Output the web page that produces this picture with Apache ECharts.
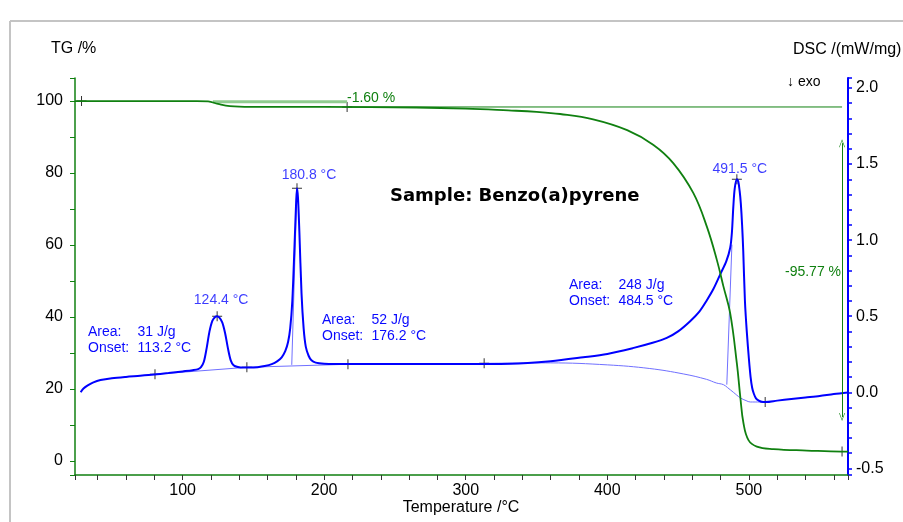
<!DOCTYPE html>
<html>
<head>
    <meta charset="utf-8">
    <title>TG / DSC</title>
    <script src="https://cdn.jsdelivr.net/npm/echarts@6/dist/echarts.min.js"></script>
</head>
<body style="margin:0;background:#fff">
    <div id="main" style="width:903px;height:522px;"></div>
    <script type="text/javascript">
// temperatures (°C) and curves
var tgT = [24, 60, 110, 118, 125, 133.4, 150, 200, 265, 300, 330, 350, 366.7, 390, 414, 432.6, 446.7, 460.8, 470.3, 477.4, 482, 486.8, 491.5, 493.9, 496.2, 499.7, 505.6, 517.4, 541, 565.7, 570];
var tgV = [100, 100, 100, 99.9, 99.2, 98.6, 98.4, 98.35, 98.2, 97.9, 97.4, 97.0, 96.4, 94.9, 91.9, 87.8, 82.7, 74.4, 65.1, 55.8, 48.5, 41, 27.1, 17.9, 10.4, 5.8, 4.0, 3.3, 2.9, 2.6, 2.6];

var dscT = [28, 30, 33, 37, 42, 50, 60, 70, 80, 90, 100, 107, 111, 113, 115, 117, 119, 121, 123, 124.4, 126, 128, 130, 132, 134, 136, 139, 143, 148, 153, 158, 163, 167, 170, 172.5, 174.5, 176, 177.5, 179, 180.2, 180.8, 181.5, 182.5, 184, 185.5, 187, 189, 191, 194, 200, 210, 230, 260, 290, 332, 360, 383, 400, 418, 432, 442, 450, 458.5, 465, 470, 475, 480, 484, 486.8, 488, 489, 490, 491.5, 492.5, 493.5, 494.3, 495.2, 496, 497.2, 498.5, 500, 501.2, 502.3, 503.5, 505, 507, 509, 511.5, 520, 530, 540, 550, 560, 570];
var dscV = [0.0, 0.025, 0.045, 0.065, 0.08, 0.092, 0.101, 0.108, 0.116, 0.126, 0.137, 0.145, 0.152, 0.165, 0.2, 0.29, 0.40, 0.47, 0.495, 0.50, 0.49, 0.46, 0.39, 0.29, 0.21, 0.178, 0.166, 0.162, 0.162, 0.165, 0.172, 0.185, 0.205, 0.23, 0.27, 0.33, 0.42, 0.6, 0.95, 1.25, 1.342, 1.28, 1.05, 0.65, 0.42, 0.3, 0.24, 0.21, 0.195, 0.188, 0.186, 0.185, 0.185, 0.185, 0.187, 0.204, 0.23, 0.252, 0.29, 0.325, 0.357, 0.40, 0.467, 0.53, 0.6, 0.68, 0.78, 0.86, 0.95, 1.05, 1.22, 1.34, 1.40, 1.385, 1.32, 1.24, 1.1, 0.93, 0.6, 0.4, 0.22, 0.1, 0.03, -0.01, -0.04, -0.055, -0.062, -0.064, -0.055, -0.045, -0.035, -0.025, -0.012, -0.002];

// integration baselines of the DSC peaks
var base1 = [[80.5, 0.118], [145.4, 0.164]];
var base2 = [[145.4, 0.164], [216.8, 0.184]];
var base3 = [[313, 0.19], [360, 0.193], [400, 0.18], [430, 0.156], [454, 0.12], [470, 0.085], [477, 0.061], [482, 0.05], [485, 0.03], [489, 0.0], [494, -0.037], [498, -0.055], [501, -0.064], [511.5, -0.064]];
var onsetLine2 = [[177.1, 0.18], [180.6, 1.28]];
var onsetLine3 = [[484.4, 0.05], [488, 0.97]];

// marked points
var peakT = [124.4, 180.8, 491.5];
var peakV = [0.50, 1.342, 1.40];
var dscMarks = [[80.5, 0.118], [145.4, 0.164], [216.8, 0.184], [313, 0.19], [511.5, -0.064]];
var tgMarks = [[28.6, 100], [216.2, 98.35], [565.8, 2.6]];

// TG step indicators
var stepLine = [[121.4, 99.8], [216.2, 99.8]];
var refLine = [[216.2, 98.35], [565.8, 98.35]];
var lossArrow = [[565.8, 88.3], [565.8, 12.2]];

var areaText = [
    {x: 88, y: 332, area: '31 J/g', onset: '113.2 °C'},
    {x: 322, y: 320, area: '52 J/g', onset: '176.2 °C'},
    {x: 569, y: 285, area: '248 J/g', onset: '484.5 °C'}
];

var FONT = '"Liberation Sans", Arial, sans-serif';
var BLUE = '#0a0aff';
var GREEN = '#108010';
var plus = 'path://M0,4.5H10V5.5H0Z M4.5,0H5.5V10H4.5Z';
var chevron = 'path://M5,0 L10,10 L9,10 L5,2 L1,10 L0,10 Z';

function zip(a, b) {
    return a.map(function (v, i) { return [v, b[i]]; });
}

var myChart = echarts.init(document.getElementById('main'));

var graphics = [
    {type: 'line', shape: {x1: 10, y1: 21, x2: 10, y2: 522}, style: {stroke: '#c4c4c4', lineWidth: 2}},
    {type: 'line', shape: {x1: 10, y1: 21, x2: 903, y2: 21}, style: {stroke: '#c4c4c4', lineWidth: 2}},
    {type: 'text', x: 51, y: 49, style: {text: 'TG /%', font: '16px ' + FONT, fill: '#000', textVerticalAlign: 'middle', verticalAlign: 'middle'}},
    {type: 'text', x: 793, y: 50, style: {text: 'DSC /(mW/mg)', font: '16px ' + FONT, fill: '#000', textVerticalAlign: 'middle', verticalAlign: 'middle'}},
    {type: 'text', x: 787, y: 82, style: {text: '\u2193 exo', font: '14px ' + FONT, fill: '#000', textVerticalAlign: 'middle', verticalAlign: 'middle'}},
    {type: 'text', x: 461, y: 508, style: {text: 'Temperature /°C', font: '16px ' + FONT, fill: '#000', textAlign: 'center', align: 'center', textVerticalAlign: 'middle', verticalAlign: 'middle'}},
    {type: 'text', x: 390, y: 196, style: {text: 'Sample: Benzo(a)pyrene', font: 'bold 18px "DejaVu Sans", sans-serif', fill: '#000', textVerticalAlign: 'middle', verticalAlign: 'middle'}},
    {type: 'text', x: 347, y: 98, style: {text: '-1.60 %', font: '14px ' + FONT, fill: GREEN, textVerticalAlign: 'middle', verticalAlign: 'middle'}},
    {type: 'text', x: 841, y: 272, style: {text: '-95.77 %', font: '14px ' + FONT, fill: GREEN, textAlign: 'right', align: 'right', textVerticalAlign: 'middle', verticalAlign: 'middle'}}
];
areaText.forEach(function (a) {
    [['Area:', a.area, 0], ['Onset:', a.onset, 16.5]].forEach(function (row) {
        graphics.push({type: 'text', x: a.x, y: a.y + row[2], style: {text: row[0], font: '14px ' + FONT, fill: BLUE, textVerticalAlign: 'middle', verticalAlign: 'middle'}});
        graphics.push({type: 'text', x: a.x + 49.5, y: a.y + row[2], style: {text: row[1], font: '14px ' + FONT, fill: BLUE, textVerticalAlign: 'middle', verticalAlign: 'middle'}});
    });
});

var peakOffsets = [[4, 0], [12, 3], [3, 6]];

var option = {
    animation: false,
    backgroundColor: '#fff',
    textStyle: {fontFamily: FONT},
    grid: {left: 75, right: 55, top: 78, bottom: 47},
    graphic: graphics,
    xAxis: {
        type: 'value',
        min: 24, max: 570,
        minInterval: 20, maxInterval: 20,
        splitLine: {show: false},
        axisLine: {onZero: false, lineStyle: {color: GREEN, width: 1.5}},
        axisTick: {length: 5, lineStyle: {color: '#333'}},
        axisLabel: {
            margin: 8, color: '#000', fontSize: 16,
            formatter: function (v) { return (Math.abs(v % 100) < 1e-6) ? String(Math.round(v)) : ''; }
        }
    },
    yAxis: [{
        type: 'value',
        min: -3.9, max: 106.4,
        minInterval: 10, maxInterval: 10,
        splitLine: {show: false},
        axisLine: {show: true, onZero: false, lineStyle: {color: GREEN, width: 1.5}},
        axisTick: {length: 5, lineStyle: {color: GREEN}},
        axisLabel: {
            margin: 12, color: '#000', fontSize: 16,
            formatter: function (v) { return (Math.abs(v % 20) < 1e-6) ? String(Math.round(v)) : ''; }
        }
    }, {
        type: 'value',
        position: 'right',
        min: -0.544, max: 2.066,
        minInterval: 0.1, maxInterval: 0.1,
        splitLine: {show: false},
        axisLine: {show: true, onZero: false, lineStyle: {color: '#0000ff', width: 2}},
        axisTick: {length: 4, lineStyle: {color: '#0000ff', width: 1.5}},
        axisLabel: {
            margin: 8, color: '#000', fontSize: 16,
            formatter: function (v) {
                var t = v * 10;
                if (Math.abs(t - Math.round(t)) > 1e-6 || Math.round(t) % 5 !== 0) return '';
                return v.toFixed(1);
            }
        }
    }],
    series: [
        {type: 'line', yAxisIndex: 1, data: base1, symbol: 'none', lineStyle: {color: '#7070ff', width: 1}},
        {type: 'line', yAxisIndex: 1, data: base2, symbol: 'none', lineStyle: {color: '#7070ff', width: 1}},
        {type: 'line', yAxisIndex: 1, data: base3, symbol: 'none', smooth: 0.4, lineStyle: {color: '#7070ff', width: 1}},
        {type: 'line', yAxisIndex: 1, data: onsetLine2, symbol: 'none', lineStyle: {color: '#7070ff', width: 1}},
        {type: 'line', yAxisIndex: 1, data: onsetLine3, symbol: 'none', lineStyle: {color: '#7070ff', width: 1}},
        {type: 'line', yAxisIndex: 0, data: stepLine, symbol: 'none', lineStyle: {color: '#90cc90', width: 3}},
        {type: 'line', yAxisIndex: 0, data: refLine, symbol: 'none', lineStyle: {color: GREEN, width: 1}},
        {
            type: 'line', yAxisIndex: 0, data: [], symbol: 'none',
            markLine: {
                silent: true, symbol: [chevron, chevron], symbolSize: [6, 8],
                label: {show: false},
                lineStyle: {color: GREEN, width: 1, type: 'solid'},
                data: [[{coord: lossArrow[0]}, {coord: lossArrow[1]}]]
            }
        },
        {type: 'line', yAxisIndex: 1, data: zip(dscT, dscV), symbol: 'none', smooth: 0.3, lineStyle: {color: '#0000ff', width: 2}},
        {type: 'line', yAxisIndex: 0, data: zip(tgT, tgV), symbol: 'none', smooth: 0.4, lineStyle: {color: GREEN, width: 1.8}},
        {type: 'scatter', yAxisIndex: 1, data: dscMarks, symbol: plus, symbolSize: 10, itemStyle: {color: '#000'}},
        {type: 'scatter', yAxisIndex: 0, data: tgMarks, symbol: plus, symbolSize: 10, itemStyle: {color: '#000'}},
        {
            type: 'scatter', yAxisIndex: 1, symbol: plus, symbolSize: 10, itemStyle: {color: '#000'},
            data: peakT.map(function (t, i) {
                return {value: [t, peakV[i]], label: {offset: peakOffsets[i]}};
            }),
            label: {
                show: true, position: 'top', distance: 4, color: BLUE, fontSize: 14,
                formatter: function (p) { return p.value[0].toFixed(1) + ' °C'; }
            }
        }
    ]
};
myChart.setOption(option);
    </script>
</body>
</html>
